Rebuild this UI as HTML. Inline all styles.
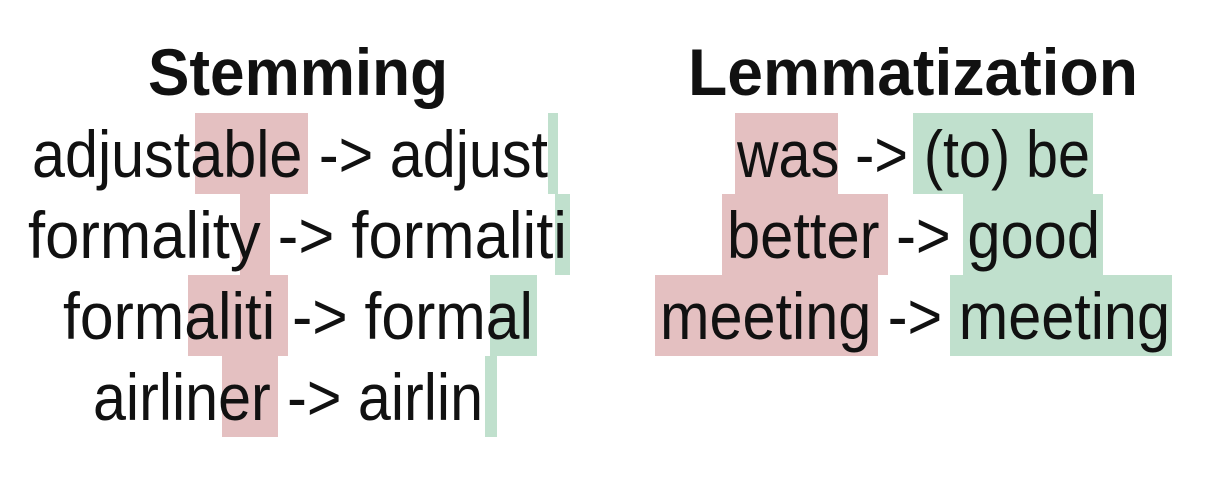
<!DOCTYPE html>
<html><head><meta charset="utf-8"><style>
html,body{margin:0;padding:0;background:#fff;}
svg{display:block;}
text{font-family:"Liberation Sans",sans-serif;fill:#111;}
.t{font-weight:bold;font-size:66px;}
.r{font-size:66px;}
</style></head><body>
<svg width="1208" height="480" viewBox="0 0 1208 480">
<g>
<rect x="195" y="113" width="113" height="81" fill="#e4c0c1"/>
<rect x="548" y="113" width="10" height="81" fill="#c0e0cd"/>
<rect x="240" y="194" width="30" height="81" fill="#e4c0c1"/>
<rect x="555" y="194" width="15" height="81" fill="#c0e0cd"/>
<rect x="188" y="275" width="100" height="81" fill="#e4c0c1"/>
<rect x="490" y="275" width="47" height="81" fill="#c0e0cd"/>
<rect x="222" y="356" width="56" height="81" fill="#e4c0c1"/>
<rect x="485" y="356" width="12" height="81" fill="#c0e0cd"/>
<rect x="735" y="113" width="103" height="81" fill="#e4c0c1"/>
<rect x="913" y="113" width="180" height="81" fill="#c0e0cd"/>
<rect x="722" y="194" width="166" height="81" fill="#e4c0c1"/>
<rect x="963" y="194" width="140" height="81" fill="#c0e0cd"/>
<rect x="655" y="275" width="223" height="81" fill="#e4c0c1"/>
<rect x="950" y="275" width="222" height="81" fill="#c0e0cd"/>
</g>
<text class="t" x="148" y="95" textLength="300" lengthAdjust="spacingAndGlyphs">Stemming</text>
<text class="t" x="688" y="95" textLength="450" lengthAdjust="spacingAndGlyphs">Lemmatization</text>
<text class="r" x="32" y="177" textLength="516" lengthAdjust="spacingAndGlyphs">adjustable -&gt; adjust</text>
<text class="r" x="28" y="258" textLength="539" lengthAdjust="spacingAndGlyphs">formality -&gt; formaliti</text>
<text class="r" x="63" y="339" textLength="470" lengthAdjust="spacingAndGlyphs">formaliti -&gt; formal</text>
<text class="r" x="93" y="420" textLength="390" lengthAdjust="spacingAndGlyphs">airliner -&gt; airlin</text>
<text class="r" x="737" y="177" textLength="353" lengthAdjust="spacingAndGlyphs">was -&gt; (to) be</text>
<text class="r" x="727" y="258" textLength="373" lengthAdjust="spacingAndGlyphs">better -&gt; good</text>
<text class="r" x="660" y="339" textLength="510" lengthAdjust="spacingAndGlyphs">meeting -&gt; meeting</text>
</svg>
</body></html>
